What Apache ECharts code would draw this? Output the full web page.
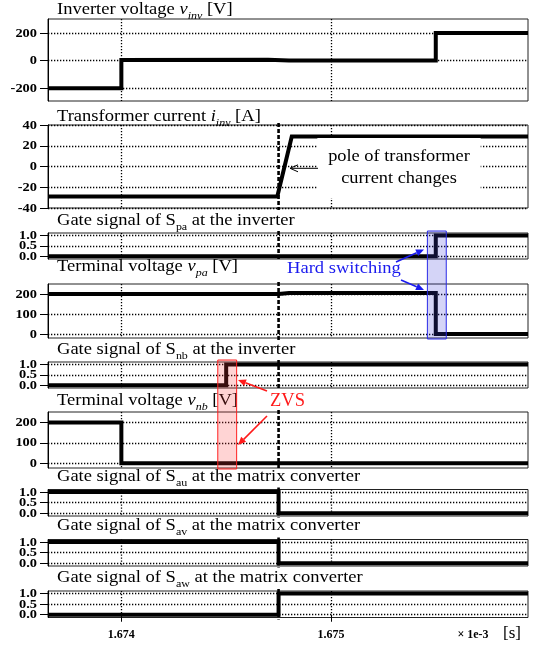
<!DOCTYPE html>
<html><head><meta charset="utf-8">
<script src="https://cdn.jsdelivr.net/npm/echarts@6/dist/echarts.min.js"></script>
<style>html,body{margin:0;padding:0;background:#fff}#c{width:534px;height:645px}</style>
</head><body><div id="c"></div>
<script>
// ---------- data (time axis in units of 1e-3 s) ----------
const tMin = 1.67365, tMax = 1.67594;
const xTicks = [1.674, 1.675];
const tSwitch = 1.67475;

const vinvT = [tMin, 1.674, 1.674, 1.67470, 1.67480, 1.6755, 1.6755, tMax];
const vinvV = [-200, -200, 4, 6, 0, 0, 200, 200];

const iinvT = [tMin, 1.674744, 1.674813, tMax];
const iinvV = [-29, -29, 29, 29];

const spaT = [tMin, 1.6755, 1.6755, tMax];
const spaV = [0, 0, 1, 1];

const vpaT = [tMin, 1.67475, 1.67480, 1.6755, 1.6755, tMax];
const vpaV = [200, 200, 205, 205, 0, 0];

const snbT = [tMin, 1.6745, 1.6745, tMax];
const snbV = [0, 0, 1, 1];

const vnbT = [tMin, 1.674, 1.674, tMax];
const vnbV = [200, 200, 0, 0];

const sauT = [tMin, tSwitch, tSwitch, tMax];
const sauV = [1, 1, 0, 0];
const savT = [tMin, tSwitch, tSwitch, tMax];
const savV = [1, 1, 0, 0];
const sawT = [tMin, tSwitch, tSwitch, tMax];
const sawV = [0, 0, 1, 1];

const yMins = [-292, -40, -0.13, -20, -0.13, -24, -0.13, -0.13, -0.13];
const yMaxs = [301, 40, 1.12, 250, 1.12, 252, 1.12, 1.12, 1.12];
const yTickVals = [
  [-200, 0, 200], [-40, -20, 0, 20, 40], [0, 0.5, 1], [0, 100, 200],
  [0, 0.5, 1], [0, 100, 200], [0, 0.5, 1], [0, 0.5, 1], [0, 0.5, 1]
];
const hardSwitchSpan = [1.67546, 1.67555];
const zvsSpan = [1.67446, 1.67455];

// ---------- layout ----------
const SERIF = "'Liberation Serif','Times New Roman',serif";
const layout = [
  {top: 19, h: 82}, {top: 125, h: 83}, {top: 233, h: 26}, {top: 284, h: 54},
  {top: 362, h: 26}, {top: 412, h: 56}, {top: 489.5, h: 26.5}, {top: 539.5, h: 26.5},
  {top: 591, h: 26.5}
];
const isGate = [false, false, true, false, true, false, true, true, true];
const seriesT = [vinvT, iinvT, spaT, vpaT, snbT, vnbT, sauT, savT, sawT];
const seriesV = [vinvV, iinvV, spaV, vpaV, snbV, vnbV, sauV, savV, sawV];

const dotted = {color: '#000', width: 1.3, type: [1.3, 1.7]};

const grids = [], xAxes = [], yAxes = [], series = [];
for (let i = 0; i < 9; i++) {
  grids.push({left: 48, right: 6, top: layout[i].top, height: layout[i].h,
    show: true, borderColor: '#222', borderWidth: 1, backgroundColor: 'transparent'});
  const last = i === 8;
  xAxes.push({gridIndex: i, type: 'value', min: tMin, max: tMax,
    axisLine: {show: false},
    axisTick: {show: last, customValues: xTicks, length: 7, lineStyle: {color: '#000', width: 1}},
    axisLabel: {show: last, customValues: xTicks, margin: 11, color: '#000',
      fontFamily: SERIF, fontWeight: 'bold', fontSize: 12, formatter: v => v.toFixed(3)},
    splitLine: {show: true, lineStyle: dotted}
  });
  yAxes.push({gridIndex: i, type: 'value', min: yMins[i], max: yMaxs[i],
    axisLine: {show: true, lineStyle: {color: '#000', width: 1}},
    axisTick: {show: true, customValues: yTickVals[i], length: 8, lineStyle: {color: '#000', width: 1}},
    axisLabel: {show: false, customValues: yTickVals[i]},
    splitLine: {show: true, lineStyle: dotted}
  });
  series.push({type: 'line', xAxisIndex: i, yAxisIndex: i, showSymbol: false, silent: true,
    animation: false, clip: true,
    data: seriesT[i].map((t, k) => [t, seriesV[i][k]]),
    lineStyle: {color: '#000', width: 4, cap: 'butt', join: 'miter'}, z: 5});
}

const chart = echarts.init(document.getElementById('c'), null, {renderer: 'canvas'});
chart.setOption({animation: false, backgroundColor: '#fff', grid: grids, xAxis: xAxes, yAxis: yAxes, series: series});

// ---------- titles & annotations ----------
const rich = {
  n: {fontFamily: SERIF, fontSize: 17, lineHeight: 24, color: '#000'},
  i: {fontFamily: SERIF, fontSize: 17, fontStyle: 'italic', lineHeight: 24, color: '#000'},
  si: {fontFamily: SERIF, fontSize: 11, fontStyle: 'italic', verticalAlign: 'bottom', color: '#000'},
  s: {fontFamily: SERIF, fontSize: 11, verticalAlign: 'bottom', color: '#000'}
};
const titles = [
  '{n|Inverter voltage }{i|v}{si|inv}{n| [V]}',
  '{n|Transformer current }{i|i}{si|inv}{n| [A]}',
  '{n|Gate signal of S}{s|pa}{n| at the inverter}',
  '{n|Terminal voltage }{i|v}{si|pa}{n| [V]}',
  '{n|Gate signal of S}{s|nb}{n| at the inverter}',
  '{n|Terminal voltage }{i|v}{si|nb}{n| [V]}',
  '{n|Gate signal of S}{s|au}{n| at the matrix converter}',
  '{n|Gate signal of S}{s|av}{n| at the matrix converter}',
  '{n|Gate signal of S}{s|aw}{n| at the matrix converter}'
];
const titleY = [10, 117, 221, 267, 350, 401, 477, 526, 578];

const els = [];
titles.forEach((t, i) => {
  els.push({type: 'text', x: 57, y: titleY[i], z: 60, scaleX: 1.09,
    style: {text: t, rich: rich, align: 'left', verticalAlign: 'middle'}});
});

// y tick labels (placed through each panel's y axis scale)
for (let i = 0; i < 9; i++) {
  yTickVals[i].forEach(v => {
    const p = chart.convertToPixel({gridIndex: i}, [tMin, v]);
    els.push({type: 'text', x: 37, y: p[1] + 0.5, z: 60, scaleX: 1.2,
      style: {text: isGate[i] ? v.toFixed(1) : String(v), fontFamily: SERIF, fontWeight: 'bold',
        fontSize: 12, fill: '#000', align: 'right', verticalAlign: 'middle'}});
  });
}

// thick dashed line at the instant of the matrix-converter switching (panels 2-9)
for (let i = 1; i < 9; i++) {
  const a = chart.convertToPixel({gridIndex: i}, [tSwitch, yMaxs[i]]);
  const b = chart.convertToPixel({gridIndex: i}, [tSwitch, yMins[i]]);
  els.push({type: 'line', z: 40, shape: {x1: a[0], y1: a[1] - 2, x2: b[0], y2: b[1] + 2},
    style: {stroke: '#000', lineWidth: 2.6, lineDash: [4, 2]}});
}

function arrow(x1, y1, x2, y2, color, w, filled) {
  const ang = Math.atan2(y2 - y1, x2 - x1), L = 8, W = 3.5;
  const bx = x2 - L * Math.cos(ang), by = y2 - L * Math.sin(ang);
  const px = -Math.sin(ang) * W, py = Math.cos(ang) * W;
  const out = [{type: 'line', z: 120, shape: {x1: x1, y1: y1, x2: filled ? bx : x2, y2: filled ? by : y2},
    style: {stroke: color, lineWidth: w}}];
  if (filled) out.push({type: 'polygon', z: 120, shape: {points: [[x2, y2], [bx + px, by + py], [bx - px, by - py]]},
    style: {fill: color}});
  else out.push({type: 'polyline', z: 120, shape: {points: [[bx + px, by + py], [x2, y2], [bx - px, by - py]]},
    style: {stroke: color, lineWidth: w, fill: null}});
  return out;
}

// highlighted spans, positioned from data via the axes
function spanRect(span, gTop, gBot, stroke, fill) {
  const a = chart.convertToPixel({gridIndex: gTop}, [span[0], yMaxs[gTop]]);
  const b = chart.convertToPixel({gridIndex: gBot}, [span[1], yMins[gBot]]);
  return {type: 'rect', z: 90, shape: {x: a[0], y: a[1] - 2, width: b[0] - a[0], height: b[1] - a[1] + 3},
    style: {fill: fill, stroke: stroke, lineWidth: 1}};
}
els.push(spanRect(hardSwitchSpan, 2, 3, '#2a2ae6', 'rgba(60,60,220,0.22)'));
els.push(spanRect(zvsSpan, 4, 5, '#ff2020', 'rgba(255,60,60,0.22)'));

// pole-of-current label
els.push({type: 'text', x: 399, y: 168, z: 60, scaleX: 1.08,
  style: {text: 'pole of transformer\ncurrent changes', fontFamily: SERIF, fontSize: 17, lineHeight: 22,
    fill: '#000', align: 'center', verticalAlign: 'middle', backgroundColor: '#fff', padding: [8, 10]}});
els.push(...arrow(318, 168.3, 290, 168.3, '#000', 1, false));

// Hard switching
els.push({type: 'text', x: 287, y: 268, z: 110, scaleX: 1.06,
  style: {text: 'Hard switching', fontFamily: SERIF, fontSize: 17.5, fill: '#1a1aee', align: 'left', verticalAlign: 'middle'}});
els.push(...arrow(396, 262, 424, 249.5, '#1a1aee', 1.6, true));
els.push(...arrow(401, 280, 424, 290, '#1a1aee', 1.6, true));

// ZVS
els.push({type: 'text', x: 270, y: 401, z: 110,
  style: {text: 'ZVS', fontFamily: SERIF, fontSize: 18.5, fill: '#ff1a1a', align: 'left', verticalAlign: 'middle'}});
els.push(...arrow(267, 391, 238, 380, '#ff1a1a', 1.6, true));
els.push(...arrow(267, 416, 238, 445, '#ff1a1a', 1.6, true));

// unit labels on time axis
els.push({type: 'text', x: 473, y: 635, z: 60,
  style: {text: '\u00d7 1e-3', fontFamily: SERIF, fontSize: 12, fontWeight: 'bold', fill: '#000', align: 'center', verticalAlign: 'middle'}});
els.push({type: 'text', x: 512, y: 634, z: 60,
  style: {text: '[s]', fontFamily: SERIF, fontSize: 17, fill: '#000', align: 'center', verticalAlign: 'middle'}});

chart.setOption({graphic: {elements: els}});
</script></body></html>
